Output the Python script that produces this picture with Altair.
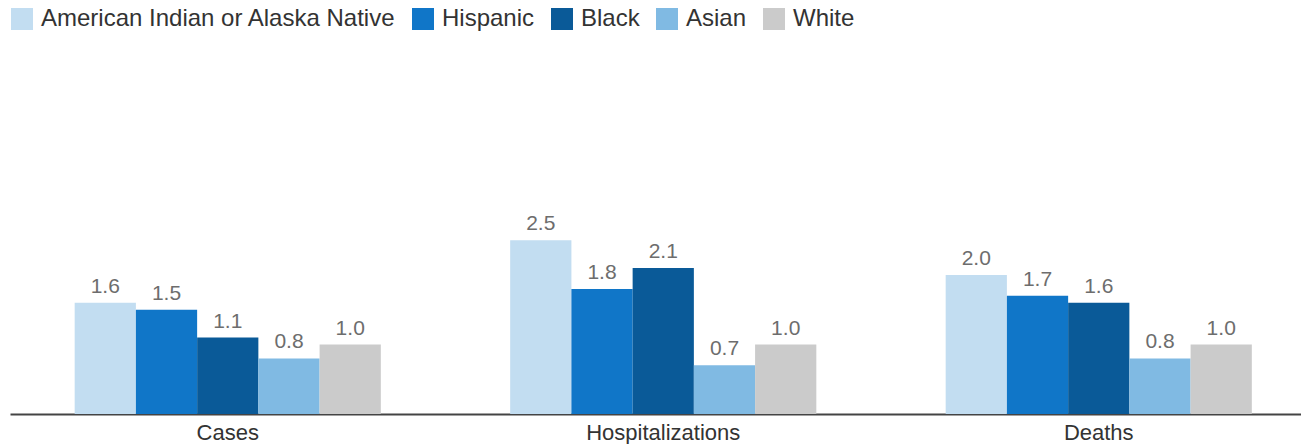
import altair as alt
import pandas as pd

measures = ["Cases", "Hospitalizations", "Deaths"]
groups = ["American Indian or Alaska Native", "Hispanic", "Black", "Asian", "White"]
colors = ["#c2ddf1", "#1076c8", "#0a5a98", "#80bae3", "#cbcbcb"]
values = {
    "Cases": [1.6, 1.5, 1.1, 0.8, 1.0],
    "Hospitalizations": [2.5, 1.8, 2.1, 0.7, 1.0],
    "Deaths": [2.0, 1.7, 1.6, 0.8, 1.0],
}

rows = []
for m in measures:
    for g, v in zip(groups, values[m]):
        rows.append({"measure": m, "group": g, "value": v})
df = pd.DataFrame(rows)

FONT = "Liberation Sans"

x = alt.X("measure:N", sort=measures, title=None,
          scale=alt.Scale(range=[0, 1306.5], paddingInner=0.297, paddingOuter=0.1485),
          axis=alt.Axis(labelAngle=0, labelFontSize=22, labelColor="#333333",
                        labelFont=FONT, ticks=False, domainColor="#444444",
                        domainWidth=2, labelPadding=8, grid=False))
xo = alt.XOffset("group:N", sort=groups,
                 scale=alt.Scale(paddingInner=0, paddingOuter=0))
y = alt.Y("value:Q", axis=None, scale=alt.Scale(domain=[0, 5.957], nice=False, zero=True))

bars = alt.Chart(df).mark_bar().encode(
    x=x, xOffset=xo, y=y,
    color=alt.Color("group:N", sort=groups,
                    scale=alt.Scale(domain=groups, range=colors),
                    legend=alt.Legend(title=None, orient="none", legendX=0, legendY=7,
                                      direction="horizontal", columns=5,
                                      symbolType="square", symbolSize=484,
                                      symbolStrokeWidth=0, labelFontSize=24,
                                      labelFont=FONT, labelColor="#333333",
                                      labelOffset=7, columnPadding=15, padding=0,
                                      labelLimit=600)),
)

text = alt.Chart(df).mark_text(baseline="alphabetic", dy=-10, fontSize=21,
                               font=FONT, color="#6d6d6d").encode(
    x=x, xOffset=xo, y=y,
    text=alt.Text("value:Q", format=".1f"),
)

chart = alt.layer(bars, text).properties(
    width=1291, height=414,
    padding={"left": 10, "top": 0, "right": 0, "bottom": 30},
    autosize=alt.AutoSizeParams(type="none"),
).configure_view(stroke=None)

chart.save("out.html", embed_options={"renderer": "svg", "actions": False})
